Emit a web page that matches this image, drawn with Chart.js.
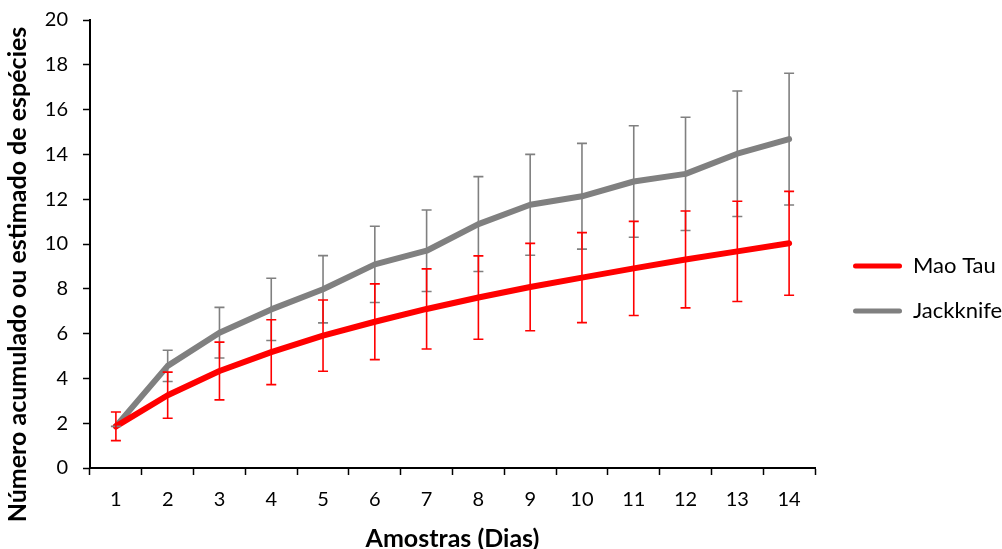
<!DOCTYPE html>
<html><head><meta charset="utf-8">
<script src="https://cdn.jsdelivr.net/npm/chart.js@4"></script>
<style>html,body{margin:0;padding:0;background:#fff}#wrap{width:1002px;height:549px}</style>
</head><body><div id="wrap"><canvas id="c" width="1002" height="549"></canvas></div>
<script>
const categories = ['1','2','3','4','5','6','7','8','9','10','11','12','13','14'];
const maoTau = [1.86, 3.25, 4.33, 5.17, 5.91, 6.53, 7.10, 7.61, 8.08, 8.50, 8.91, 9.31, 9.67, 10.03];
const maoTauErr = [0.64, 1.03, 1.29, 1.45, 1.59, 1.69, 1.79, 1.86, 1.95, 2.01, 2.10, 2.16, 2.24, 2.32];
const jackknife = [1.86, 4.56, 6.04, 7.08, 7.98, 9.09, 9.70, 10.89, 11.75, 12.13, 12.79, 13.13, 14.03, 14.68];
const jackknifeErr = [0, 0.70, 1.13, 1.39, 1.50, 1.70, 1.82, 2.12, 2.25, 2.36, 2.49, 2.53, 2.80, 2.94];
const yMin = 0, yMax = 20, yStep = 2;
const xTitle = 'Amostras (Dias)';
const yTitle = 'Número acumulado ou estimado de espécies';

const FONT = 'Lato';

const errorBars = {
  id: 'errorBars',
  afterDatasetsDraw(chart) {
    const {ctx, scales: {x, y}} = chart;
    const order = chart.data.datasets.map((d, i) => i).reverse();
    order.forEach(di => {
      const ds = chart.data.datasets[di];
      ctx.save();
      ctx.strokeStyle = ds.errorColor;
      ctx.lineWidth = 1.6;
      ds.data.forEach((v, i) => {
        const e = ds.errors[i];
        const px = x.getPixelForValue(i);
        const yt = y.getPixelForValue(v + e);
        const yb = y.getPixelForValue(v - e);
        ctx.beginPath();
        ctx.moveTo(px, yt); ctx.lineTo(px, yb);
        ctx.moveTo(px - 5, yt); ctx.lineTo(px + 5, yt);
        ctx.moveTo(px - 5, yb); ctx.lineTo(px + 5, yb);
        ctx.stroke();
      });
      ctx.restore();
    });
  }
};

new Chart(document.getElementById('c'), {
  type: 'line',
  data: {
    labels: categories,
    datasets: [
      { label: 'Mao Tau', data: maoTau, errors: maoTauErr, borderColor: '#ff0000', backgroundColor: '#ff0000', errorColor: '#ff0000', borderWidth: 6, pointRadius: 0, tension: 0, borderCapStyle: 'round', borderJoinStyle: 'round' },
      { label: 'Jackknife', data: jackknife, errors: jackknifeErr, borderColor: '#808080', backgroundColor: '#808080', errorColor: '#808080', borderWidth: 6, pointRadius: 0, tension: 0, borderCapStyle: 'round', borderJoinStyle: 'round' }
    ]
  },
  options: {
    responsive: false,
    animation: false,
    layout: { autoPadding: false, padding: { top: 0, right: 0, bottom: 0, left: 0 } },
    plugins: {
      tooltip: { enabled: false },
      title: {
        display: true, position: 'left', text: yTitle, color: '#000',
        font: { family: FONT, size: 25, weight: 'bold', lineHeight: 1 },
        padding: { top: 5, bottom: 0 }
      },
      subtitle: {
        display: true, position: 'top', fullSize: false, text: ' ',
        font: { family: FONT, size: 10, lineHeight: 1 },
        padding: { top: 0, bottom: 10 }
      },
      legend: {
        position: 'right',
        align: 'center',
        maxWidth: 172,
        title: { display: true, text: ' ', font: { family: FONT, size: 10, lineHeight: 1 }, padding: { top: 9, bottom: 9 } },
        labels: {
          boxWidth: 49, boxHeight: 5, padding: 23, useBorderRadius: true, borderRadius: 2.5,
          color: '#000', font: { family: FONT, size: 22 },
          generateLabels(chart) {
            const items = Chart.defaults.plugins.legend.labels.generateLabels(chart);
            items.forEach(it => { it.lineWidth = 0; it.strokeStyle = 'rgba(0,0,0,0)'; });
            return items;
          }
        }
      }
    },
    scales: {
      x: {
        type: 'category',
        offset: true,
        grid: { display: true, drawOnChartArea: false, drawTicks: true, tickLength: 7, tickWidth: 1.5, tickColor: '#000', offset: true },
        border: { display: true, color: '#000', width: 2 },
        ticks: { color: '#000', font: { family: FONT, size: 20 }, padding: 13, maxRotation: 0 },
        title: { display: true, text: xTitle, color: '#000', font: { family: FONT, size: 25, weight: 'bold', lineHeight: 0.8 }, padding: { top: 0, bottom: 0 } },
        afterFit(s) { s.height = 81; }
      },
      y: {
        min: yMin, max: yMax,
        grid: { display: true, drawOnChartArea: false, drawTicks: true, tickLength: 7, tickWidth: 1.5, tickColor: '#000' },
        border: { display: true, color: '#000', width: 2 },
        ticks: { stepSize: yStep, color: '#000', font: { family: FONT, size: 20 }, padding: 15 },
        afterFit(s) { s.width = 60; s.paddingTop = 0; s.paddingBottom = 0; }
      },
      yRight: {
        position: 'right',
        display: true,
        grid: { display: false },
        border: { display: false },
        ticks: { display: false },
        afterFit(s) { s.width = 15; s.paddingTop = 0; s.paddingBottom = 0; }
      }
    }
  },
  plugins: [errorBars]
});
</script>
</body></html>
